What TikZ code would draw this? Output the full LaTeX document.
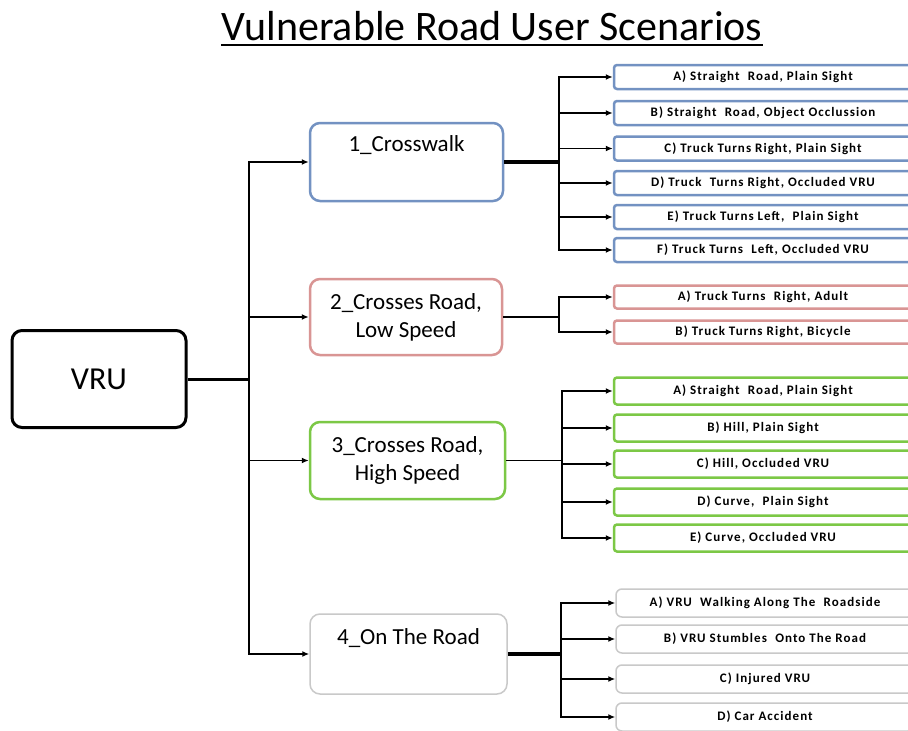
\documentclass[tikz,border=0pt]{standalone}
\usepackage{fontspec}
\setmainfont{Carlito}
\newfontfamily\leaffont[LetterSpace=8]{Carlito}
\usetikzlibrary{arrows.meta,calc}

\definecolor{blueB}{HTML}{7392C2}
\definecolor{redB}{HTML}{D99594}
\definecolor{greenB}{HTML}{7CC846}
\definecolor{grayB}{HTML}{C9C9C9}

\tikzset{
  rootbox/.style={draw=black, line width=3pt, rounded corners=10pt,
    minimum width=174pt, minimum height=97pt, inner sep=0pt,
    font=\fontsize{32}{34}\selectfont},
  lvlbox/.style={line width=2.5pt, rounded corners=10pt, inner sep=0pt,
    align=center, font=\fontsize{23}{28}\selectfont},
  lvltext/.style={anchor=base, inner sep=0pt, font=\fontsize{23}{28}\selectfont},
  leafbox/.style={line width=2.5pt, rounded corners=3pt, inner sep=0pt,
    minimum width=298pt, font=\leaffont\bfseries\fontsize{13}{15}\selectfont},
  arr/.style={line width=1.6pt, -{Latex[length=7pt,width=6pt]}},
  link/.style={line width=1.5pt},
}

\begin{document}
\begin{tikzpicture}[x=1pt, y=-1pt]
  \useasboundingbox (0,0) rectangle (908,731);
  \fill[white] (0,0) rectangle (908,731);

  % title
  \node[anchor=base, inner sep=0pt, font=\fontsize{42}{46}\selectfont]
    (title) at (492,40) {Vulnerable Road User Scenarios};
  \draw[line width=2pt] ([yshift=-5pt]title.base west) -- ([yshift=-5pt]title.base east);

  % root
  \node[rootbox] (vru) at (99,379) {VRU};

  % first level
  \node[lvlbox, draw=blueB, minimum width=193pt, minimum height=78pt]
    (c1) at (406.5,162) {};
  \node[lvltext] (t1) at ($(c1.north)+(0,30)$) {1\_Crosswalk};

  \node[lvlbox, draw=redB, minimum width=192pt, minimum height=76pt]
    (c2) at (406,317) {2\_Crosses Road,\\Low Speed};
  \node[lvlbox, draw=greenB, minimum width=195pt, minimum height=77pt]
    (c3) at (407.5,460.5) {3\_Crosses Road,\\High Speed};

  \node[lvlbox, draw=grayB, line width=1.5pt, minimum width=197pt, minimum height=80pt]
    (c4) at (408.5,654) {};
  \node[lvltext] (t4) at ($(c4.north)+(0,31)$) {4\_On The Road};

  % trunk from the root
  \coordinate (trunk) at (249,379);
  \draw[line width=3pt] (vru.east) -- (trunk);
  \foreach \c in {c1,c2,c3,c4}
    \draw[arr] (trunk) |- (\c.west);

  % leaves: crosswalk
  \foreach \n/\y/\t in {
      a1/77/{A) Straight\,\, Road, Plain Sight},
      a2/113/{B) Straight\,\, Road, Object Occlussion},
      a3/148.5/{C) Truck Turns Right, Plain Sight},
      a4/183/{D) Truck\,\, Turns Right, Occluded VRU},
      a5/217/{E) Truck Turns Left,\,\, Plain Sight},
      a6/250/{F) Truck Turns\,\, Left, Occluded VRU}}
    \node[leafbox, draw=blueB, minimum height=24pt] (\n) at (763,\y) {\t};

  % leaves: low speed
  \foreach \n/\y/\t in {
      b1/297/{A) Truck Turns\,\, Right, Adult},
      b2/332/{B) Truck Turns Right, Bicycle}}
    \node[leafbox, draw=redB, minimum height=23pt] (\n) at (763,\y) {\t};

  % leaves: high speed
  \foreach \n/\y/\t in {
      g1/391/{A) Straight\,\, Road, Plain Sight},
      g2/428/{B) Hill, Plain Sight},
      g3/464/{C) Hill, Occluded VRU},
      g4/502/{D) Curve,\,\, Plain Sight},
      g5/538/{E) Curve, Occluded VRU}}
    \node[leafbox, draw=greenB, minimum height=27pt] (\n) at (763,\y) {\t};

  % leaves: on the road
  \foreach \n/\y/\t in {
      d1/603/{A) VRU\,\, Walking Along The\,\, Roadside},
      d2/639/{B) VRU Stumbles\,\, Onto The Road},
      d3/679/{C) Injured VRU},
      d4/717/{D) Car Accident}}
    \node[leafbox, draw=grayB, line width=1.5pt, rounded corners=6pt, minimum height=28pt] (\n) at (765,\y) {\t};

  % junctions
  \coordinate (j1) at (559,162);
  \coordinate (j2) at (559,317);
  \coordinate (j3) at (562,460.5);
  \coordinate (j4) at (561,654);

  \draw[line width=4pt] (c1.east) -- (j1);
  \draw[link] (c2.east) -- (j2);
  \draw[link] (c3.east) -- (j3);
  \draw[line width=4pt] (c4.east) -- (j4);

  \foreach \n in {a1,a2,a3,a4,a5,a6}
    \draw[arr] (j1) |- (\n.west);
  \foreach \n in {b1,b2}
    \draw[arr] (j2) |- (\n.west);
  \foreach \n in {g1,g2,g3,g4,g5}
    \draw[arr] (j3) |- (\n.west);
  \foreach \n in {d1,d2,d3,d4}
    \draw[arr] (j4) |- (\n.west);
\end{tikzpicture}
\end{document}
